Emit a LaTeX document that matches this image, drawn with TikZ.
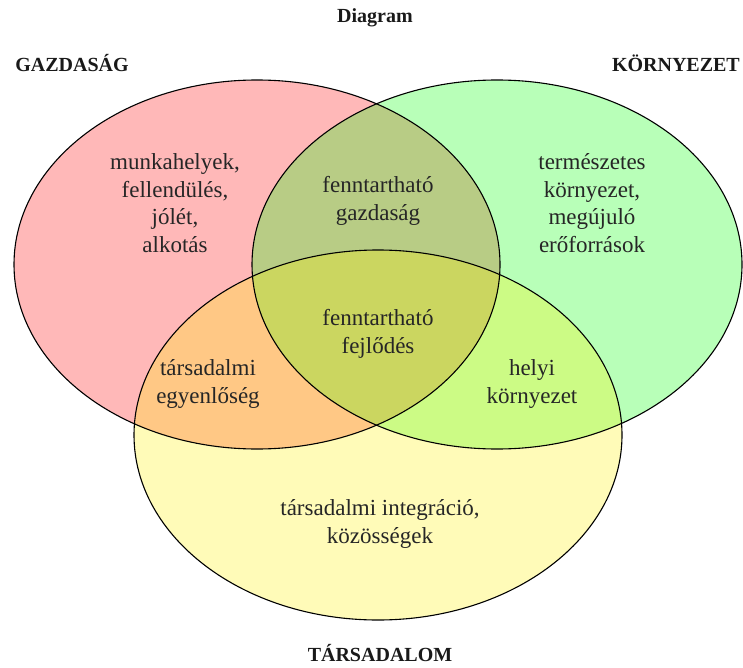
\documentclass[tikz,border=0pt]{standalone}
\usepackage{fontspec}
\setmainfont{Liberation Serif}
\begin{document}
\begin{tikzpicture}[x=1pt,y=-1pt,
  setfill/.style={fill opacity=0.28},
  outline/.style={draw=black,line width=1.1pt},
  lbl/.style={align=center,text=black!85,font=\fontsize{23}{27.6}\selectfont,inner sep=0pt},
  ttl/.style={text=black!90,font=\fontsize{20}{22}\selectfont\bfseries,inner sep=0pt}]
\useasboundingbox (0,0) rectangle (743,668);
% fills
\fill[red,setfill] (257,264.5) ellipse [x radius=243, y radius=184.5];
\fill[green,setfill] (497,264.5) ellipse [x radius=245, y radius=184.5];
\fill[yellow,setfill] (378,435) ellipse [x radius=244, y radius=185];
% outlines
\draw[outline] (257,264.5) ellipse [x radius=243, y radius=184.5];
\draw[outline] (497,264.5) ellipse [x radius=245, y radius=184.5];
\draw[outline] (378,435) ellipse [x radius=244, y radius=185];
% titles
\node[ttl] (title) at (375,18) {Diagram};
\node[ttl] (gazd) at (72,63) {GAZDASÁG};
\node[ttl,anchor=east] (korny) at (740,63) {KÖRNYEZET};
\node[ttl] (tars) at (380,653) {TÁRSADALOM};
% labels
\node[lbl] (g) at (175,203) {munkahelyek,\\fellendülés,\\jólét,\\alkotás};
\node[lbl] (k) at (592,203) {természetes\\környezet,\\megújuló\\erőforrások};
\node[lbl] (gk) at (378,201) {fenntartható\\gazdaság};
\node[lbl] (all) at (378,334) {fenntartható\\fejlődés};
\node[lbl] (gt) at (208,384) {társadalmi\\egyenlőség};
\node[lbl] (kt) at (532,384) {helyi\\környezet};
\node[lbl] (t) at (380,524) {társadalmi integráció,\\közösségek};
\end{tikzpicture}
\end{document}
